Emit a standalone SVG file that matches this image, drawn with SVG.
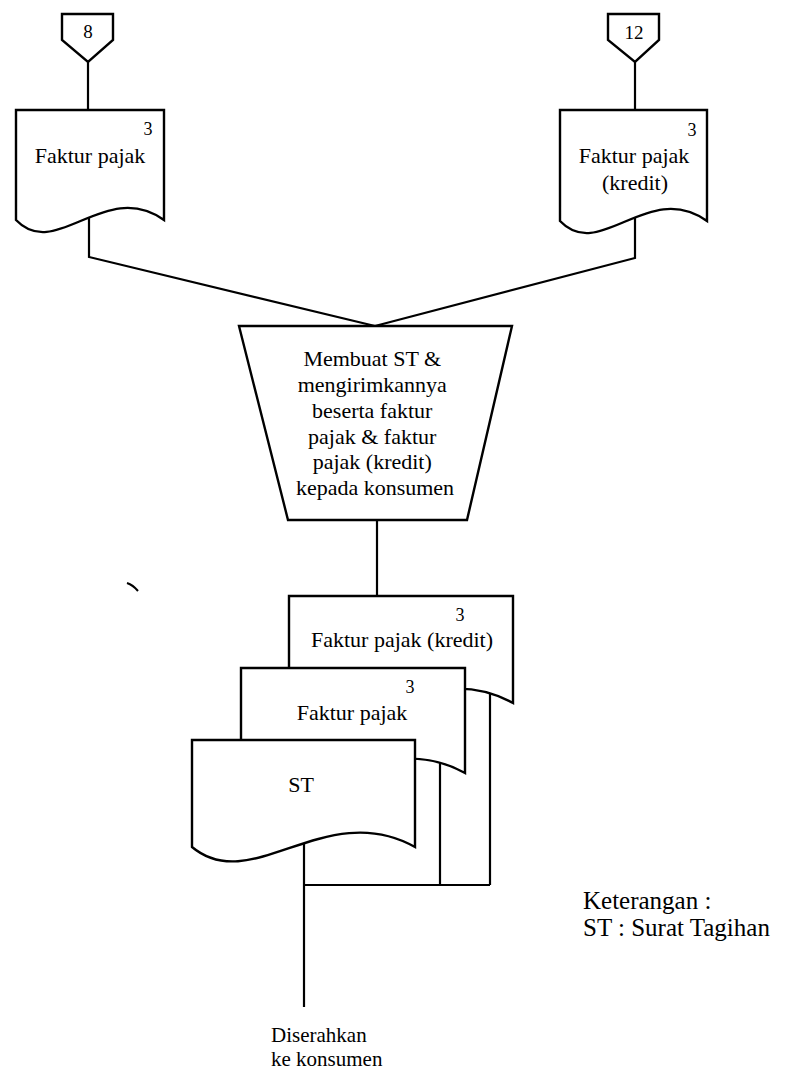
<svg xmlns="http://www.w3.org/2000/svg" width="793" height="1072" viewBox="0 0 793 1072">
<style>
.ln{fill:none;stroke:#000;stroke-width:2.2;stroke-linejoin:miter}
.sh{fill:#fff;stroke:#000;stroke-width:2.4;stroke-linejoin:miter}
text{font-family:"Liberation Serif","Times New Roman",serif;fill:#000}
.t{font-size:22px}
.n{font-size:18px}
.c{text-anchor:middle}
</style>
<rect width="793" height="1072" fill="#fff"/>
<g id="connectors">
<path class="ln" d="M88,62 V110"/>
<path class="ln" d="M635,62 V110"/>
<path class="ln" d="M89,215 V257 L375,326"/>
<path class="ln" d="M635,215 V258 L375,326"/>
<path class="ln" d="M377,520 V596"/>
<path class="ln" d="M304,840 V1007"/>
<path class="ln" d="M304,885 H490"/>
<path class="ln" d="M440,755 V885"/>
<path class="ln" d="M490,685 V885"/>
</g>
<g id="conn8">
<path class="sh" d="M62,14 H113 V40 L88,62 L62,40 Z"/>
<text x="88" y="38" class="c" font-size="19">8</text>
</g>
<g id="conn12">
<path class="sh" d="M608,14 H659 V40 L635,62 L608,40 Z"/>
<text x="634" y="39" class="c" font-size="19">12</text>
</g>
<g id="doc-faktur-top">
<path class="sh" d="M16,110 H164 V220 C105,178 56,262 16,220 Z"/>
<text x="148" y="135" class="n c">3</text>
<text x="90" y="163" class="t c">Faktur pajak</text>
</g>
<g id="doc-kredit-top">
<path class="sh" d="M560,110 H707 V221 C648,179 600,263 560,221 Z"/>
<text x="692" y="136" class="n c">3</text>
<text x="634" y="163" class="t c">Faktur pajak</text>
<text x="635" y="190" class="t c">(kredit)</text>
</g>
<g id="process">
<path class="sh" d="M239,326 L512,326 L467,520 L288,520 Z"/>
<text class="t c" x="375">
<tspan x="375" y="366">Membuat ST &amp;</tspan>
<tspan x="375" y="392">mengirimkannya</tspan>
<tspan x="375" y="418">beserta faktur</tspan>
<tspan x="375" y="444">pajak &amp; faktur</tspan>
<tspan x="375" y="469">pajak (kredit)</tspan>
<tspan x="375" y="495">kepada konsumen</tspan>
</text>
</g>
<g id="doc-kredit">
<path class="sh" d="M289,596 H513 V703 C423,653 350,753 289,703 Z"/>
<text x="460" y="621" class="n c">3</text>
<text x="402" y="647" class="t c">Faktur pajak (kredit)</text>
</g>
<g id="doc-faktur">
<path class="sh" d="M241,668 H465 V773 C375,723 302,823 241,773 Z"/>
<text x="410" y="693" class="n c">3</text>
<text x="352" y="720" class="t c">Faktur pajak</text>
</g>
<g id="doc-st">
<path class="sh" d="M192,740 H415 V847 C326,797 252,897 192,847 Z"/>
<text x="301" y="792" class="t c">ST</text>
</g>
<g id="end-label">
<text x="271" y="1042" font-size="21">Diserahkan</text>
<text x="271" y="1066" font-size="21">ke konsumen</text>
</g>
<g id="legend">
<text x="583" y="909" font-size="25">Keterangan :</text>
<text x="583" y="936" font-size="25">ST : Surat Tagihan</text>
</g>
<path d="M127,583 Q133,585 138,591" fill="none" stroke="#000" stroke-width="2"/>
</svg>
